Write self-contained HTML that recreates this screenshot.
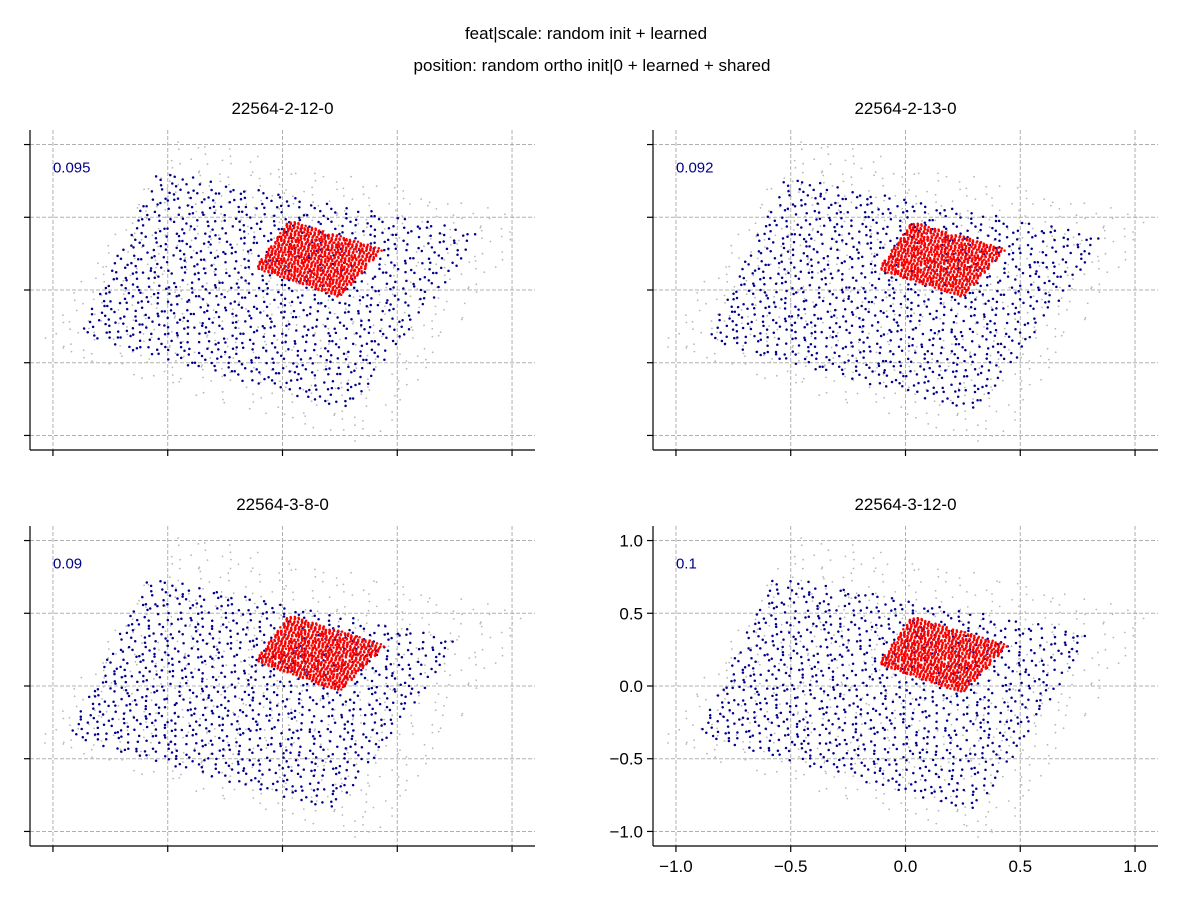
<!DOCTYPE html>
<html><head><meta charset="utf-8">
<style>
body{margin:0;background:#fff;}
svg text{font-family:"Liberation Sans","DejaVu Sans",sans-serif;}
</style></head>
<body>
<svg id="fig" width="1177" height="912" xmlns="http://www.w3.org/2000/svg">
<rect width="1177" height="912" fill="#fff"/>
<text x="586" y="39" font-size="17" text-anchor="middle">feat|scale: random init + learned</text>
<text x="592" y="71" font-size="17" text-anchor="middle">position: random ortho init|0 + learned + shared</text>
</svg>
<script>
// panel titles and annotated values
const panelTitles = ["22564-2-12-0","22564-2-13-0","22564-3-8-0","22564-3-12-0"];
const panelValues = ["0.095","0.092","0.09","0.1"];
// tick values
const xTicks = [-1.0,-0.5,0.0,0.5,1.0];
const yTicks = [-1.0,-0.5,0.0,0.5,1.0];
const xTickLabels = ["\u22121.0","\u22120.5","0.0","0.5","1.0"];
const yTickLabels = ["\u22121.0","\u22120.5","0.0","0.5","1.0"];
// cloud quadrilaterals in data units: [leftX,leftY, bottomX,bottomY, rightX,rightY, topX,topY] per panel
const blueClouds = [
 [-0.89,-0.31, 0.29,-0.83, 0.88,0.40, -0.54,0.82],
 [-0.87,-0.35, 0.31,-0.84, 0.88,0.37, -0.52,0.78],
 [-0.94,-0.35, 0.23,-0.86, 0.78,0.32, -0.58,0.75],
 [-0.91,-0.34, 0.31,-0.87, 0.82,0.36, -0.57,0.76]
];
const redClouds = [
 [-0.12,0.15, 0.25,-0.05, 0.44,0.28, 0.03,0.48],
 [-0.12,0.14, 0.25,-0.05, 0.44,0.28, 0.03,0.47],
 [-0.12,0.17, 0.25,-0.04, 0.45,0.28, 0.03,0.49],
 [-0.12,0.15, 0.25,-0.05, 0.45,0.28, 0.03,0.48]
];
const grayClouds = [
 [-1.08,-0.40, 0.40,-1.08, 1.10,0.50, -0.45,1.05],
 [-1.08,-0.40, 0.40,-1.08, 1.10,0.50, -0.45,1.05],
 [-1.08,-0.40, 0.40,-1.08, 1.10,0.50, -0.45,1.05],
 [-1.08,-0.40, 0.40,-1.08, 1.10,0.50, -0.45,1.05]
];
const pointCounts = [1000, 1000, 650]; // blue, red, gray

const NS="http://www.w3.org/2000/svg";
const svg=document.getElementById('fig');
const panels=[{l:30,t:130},{l:653,t:130},{l:30,t:526},{l:653,t:526}];
const W=505,H=320;
function halton(i,b){let f=1,r=0;while(i>0){f/=b;r+=f*(i%b);i=Math.floor(i/b);}return r;}
function mk(tag,attrs){const e=document.createElementNS(NS,tag);for(const k in attrs)e.setAttribute(k,attrs[k]);return e;}

panels.forEach((p,pi)=>{
  const xs=v=>p.l+(v+1.1)/2.2*W;
  const ys=v=>p.t+(1.1-v)/2.2*H;
  const g=mk('g',{});
  
  
  svg.appendChild(g);
  xTicks.forEach(t=>{const l=mk('line',{x1:xs(t),x2:xs(t),y1:p.t,y2:p.t+H,stroke:'#b0b0b0','stroke-dasharray':'4,2','stroke-width':1});
    g.appendChild(l);});
  yTicks.forEach(t=>{const l=mk('line',{x1:p.l,x2:p.l+W,y1:ys(t),y2:ys(t),stroke:'#b0b0b0','stroke-dasharray':'4,2','stroke-width':1});
    g.appendChild(l);});
  const clouds=[[grayClouds[pi],'#b8b8b8',0.9,pointCounts[2],3,5],[blueClouds[pi],'#00008b',1.25,pointCounts[0],2,3],[redClouds[pi],'#ff0000',1.25,pointCounts[1],5,7]];
  clouds.forEach(([c,col,r,n,b1,b2],ci)=>{
    const cg=mk('g',{fill:col});
    
    
    g.appendChild(cg);
    for(let i=1;i<=n;i++){
      const a=halton(i+pi*37,b1),b=halton(i+pi*37,b2);
      const w0=(1-a)*(1-b),w1=a*(1-b),w2=a*b,w3=(1-a)*b;
      const x=w0*c[0]+w1*c[2]+w2*c[4]+w3*c[6];
      const y=w0*c[1]+w1*c[3]+w2*c[5]+w3*c[7];
      if(x<-1.1||x>1.1||y<-1.1||y>1.1)continue;
      cg.appendChild(mk('circle',{cx:xs(x).toFixed(1),cy:ys(y).toFixed(1),r:r}));
    }
  });
  const sl=mk('line',{x1:p.l,x2:p.l,y1:p.t,y2:p.t+H,stroke:'#000','stroke-width':1.2});
  g.appendChild(sl);
  const sb=mk('line',{x1:p.l,x2:p.l+W,y1:p.t+H,y2:p.t+H,stroke:'#000','stroke-width':1.2});
  g.appendChild(sb);
  const labeled=(pi===3);
  xTicks.forEach((t,i)=>{g.appendChild(mk('line',{x1:xs(t),x2:xs(t),y1:p.t+H,y2:p.t+H+6,stroke:'#000','stroke-width':1.2}));
    if(labeled){const tx=mk('text',{x:xs(t),y:p.t+H+26,'font-size':17,'text-anchor':'middle'});tx.textContent=xTickLabels[i];
      g.appendChild(tx);}});
  yTicks.forEach((t,i)=>{g.appendChild(mk('line',{x1:p.l-6,x2:p.l,y1:ys(t),y2:ys(t),stroke:'#000','stroke-width':1.2}));
    if(labeled){const tx=mk('text',{x:p.l-10,y:ys(t)+6,'font-size':17,'text-anchor':'end'});tx.textContent=yTickLabels[i];
      g.appendChild(tx);}});
  const tt=mk('text',{x:p.l+W/2,y:p.t-16,'font-size':17,'text-anchor':'middle'});tt.textContent=panelTitles[pi];
  g.appendChild(tt);
  const vt=mk('text',{x:xs(-1.0),y:ys(0.8)-1,'font-size':15,fill:'#00008b'});vt.textContent=panelValues[pi];
  g.appendChild(vt);
});
</script>
</body></html>
